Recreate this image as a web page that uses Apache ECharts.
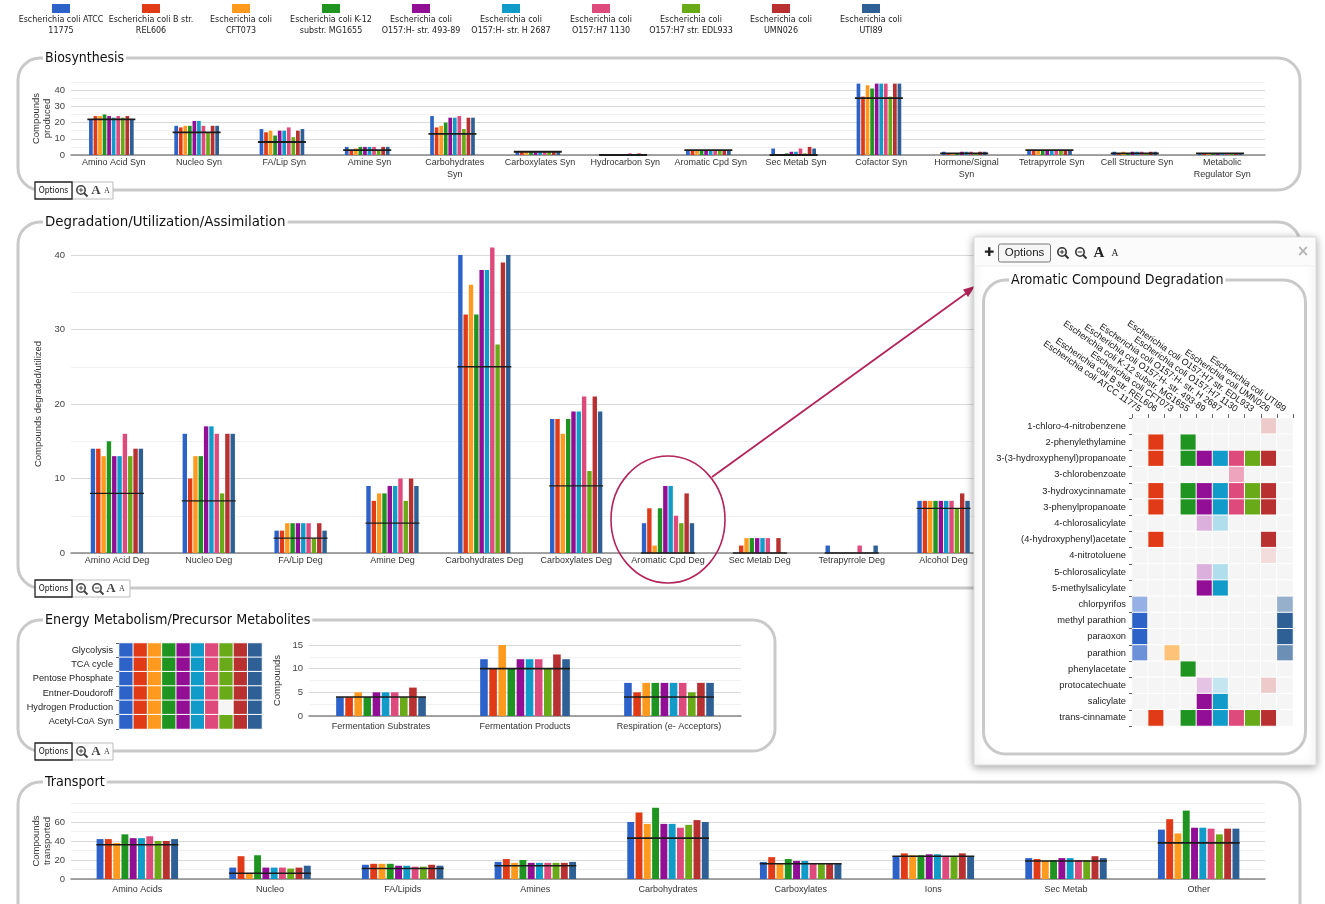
<!DOCTYPE html>
<html>
<head>
<meta charset="utf-8">
<title>Compound summary</title>
<script src="https://cdn.jsdelivr.net/npm/echarts@6/dist/echarts.min.js"></script>
<style>
  html, body { margin: 0; padding: 0; background: #fff; overflow: hidden; }
  #chart { width: 1325px; height: 904px; }
</style>
</head>
<body>
<div id="chart"></div>
<script>
const strains = [
  'Escherichia coli ATCC 11775', 'Escherichia coli B str. REL606', 'Escherichia coli CFT073',
  'Escherichia coli K-12 substr. MG1655', 'Escherichia coli O157:H- str. 493-89', 'Escherichia coli O157:H- str. H 2687',
  'Escherichia coli O157:H7 1130', 'Escherichia coli O157:H7 str. EDL933', 'Escherichia coli UMN026', 'Escherichia coli UTI89'
]
const legendLines = [
  ['Escherichia coli ATCC', '11775'], ['Escherichia coli B str.', 'REL606'], ['Escherichia coli', 'CFT073'],
  ['Escherichia coli K-12', 'substr. MG1655'], ['Escherichia coli', 'O157:H- str. 493-89'], ['Escherichia coli', 'O157:H- str. H 2687'],
  ['Escherichia coli', 'O157:H7 1130'], ['Escherichia coli', 'O157:H7 str. EDL933'], ['Escherichia coli', 'UMN026'], ['Escherichia coli', 'UTI89']
]
const colors = ['#2d63c8', '#e03a17', '#ff9a1f', '#1f9421', '#920e95', '#109bc9', '#df4a7c', '#69aa18', '#b83030', '#2e6095']

// biosynthesis: one row per category, one value per strain
const bioCats = ['Amino Acid Syn', 'Nucleo Syn', 'FA/Lip Syn', 'Amine Syn', 'Carbohydrates\nSyn', 'Carboxylates Syn', 'Hydrocarbon Syn',
  'Aromatic Cpd Syn', 'Sec Metab Syn', 'Cofactor Syn', 'Hormone/Signal\nSyn', 'Tetrapyrrole Syn', 'Cell Structure Syn', 'Metabolic\nRegulator Syn']
const bioValues = [
  [22, 24, 24, 25, 24, 23, 24, 23, 24, 22],
  [18, 17, 18, 18, 21, 21, 18, 14, 18, 18],
  [16, 14, 15, 12, 15, 15, 17, 11, 15, 16],
  [5, 3, 4, 5, 5, 5, 5, 3, 5, 5],
  [24, 17, 18, 20, 23, 23, 24, 16, 23, 23],
  [2, 2, 2, 2, 2, 2, 2, 2, 2, 2],
  [0, 0, 0, 0, 0, 0, 1, 0, 1, 0],
  [3, 3, 3, 3, 3, 3, 3, 3, 3, 3],
  [4, 0, 0, 1, 2, 2, 4, 1, 5, 4],
  [44, 36, 43, 41, 44, 44, 44, 36, 44, 44],
  [2, 1, 1, 1, 2, 2, 2, 1, 2, 2],
  [3, 3, 3, 3, 3, 3, 3, 3, 3, 3],
  [2, 1, 2, 1, 2, 2, 2, 1, 2, 2],
  [1, 1, 1, 1, 1, 1, 1, 1, 1, 1]
]
const bioCore = [22, 14, 8, 3, 13, 2, 0, 3, 0, 35, 1, 3, 1, 1]

// last three categories sit behind the popup, so they stay empty
const degCats = ['Amino Acid Deg', 'Nucleo Deg', 'FA/Lip Deg', 'Amine Deg', 'Carbohydrates Deg', 'Carboxylates Deg',
  'Aromatic Cpd Deg', 'Sec Metab Deg', 'Tetrapyrrole Deg', 'Alcohol Deg', '', '', '']
const degValues = [
  [14, 14, 13, 15, 13, 13, 16, 13, 14, 14],
  [16, 10, 13, 13, 17, 17, 16, 8, 16, 16],
  [3, 3, 4, 4, 4, 4, 4, 2, 4, 3],
  [9, 7, 8, 8, 9, 9, 10, 7, 10, 9],
  [40, 32, 36, 32, 38, 38, 41, 28, 39, 40],
  [18, 18, 16, 18, 19, 19, 21, 11, 21, 19],
  [4, 6, 1, 6, 9, 9, 5, 4, 8, 4],
  [0, 1, 2, 2, 2, 2, 2, 0, 2, 0],
  [1, 0, 0, 0, 0, 0, 1, 0, 0, 1],
  [7, 7, 7, 7, 7, 7, 7, 6, 8, 7],
  [], [], []
]
const degCore = [8, 7, 2, 4, 25, 9, 0, 0, 0, 6, null, null, null]

const energyCats = ['Fermentation Substrates', 'Fermentation Products', 'Respiration (e- Acceptors)']
const energyValues = [
  [4, 4, 5, 4, 5, 5, 5, 4, 6, 4],
  [12, 10, 15, 10, 12, 12, 12, 10, 13, 12],
  [7, 5, 7, 7, 7, 7, 7, 5, 7, 7]
]
const energyCore = [4, 10, 4]

const pathways = ['Glycolysis', 'TCA cycle', 'Pentose Phosphate', 'Entner-Doudoroff', 'Hydrogen Production', 'Acetyl-CoA Syn']
const pathwayCells = [
  [1, 1, 1, 1, 1, 1, 1, 1, 1, 1],
  [1, 1, 1, 1, 1, 1, 1, 1, 1, 1],
  [1, 1, 1, 1, 1, 1, 1, 1, 1, 1],
  [1, 1, 1, 1, 1, 1, 1, 1, 1, 1],
  [1, 1, 1, 1, 1, 1, 1, 0, 1, 1],
  [1, 1, 1, 1, 1, 1, 1, 1, 1, 1]
]

const transCats = ['Amino Acids', 'Nucleo', 'FA/Lipids', 'Amines', 'Carbohydrates', 'Carboxylates', 'Ions', 'Sec Metab', 'Other']
const transValues = [
  [42, 42, 38, 47, 43, 43, 45, 40, 40, 42],
  [12, 24, 6, 25, 12, 12, 12, 11, 12, 14],
  [15, 16, 16, 16, 14, 14, 13, 13, 15, 14],
  [18, 21, 17, 20, 17, 17, 17, 17, 17, 18],
  [60, 70, 58, 75, 58, 58, 54, 57, 62, 60],
  [18, 23, 16, 21, 19, 19, 16, 16, 16, 16],
  [24, 27, 25, 25, 26, 26, 24, 24, 27, 24],
  [22, 21, 19, 20, 22, 22, 20, 20, 24, 22],
  [52, 63, 48, 72, 54, 54, 53, 47, 53, 53]
]
const transCore = [36, 6, 11, 14, 43, 16, 24, 19, 38]

const compounds = ['1-chloro-4-nitrobenzene', '2-phenylethylamine', '3-(3-hydroxyphenyl)propanoate', '3-chlorobenzoate', '3-hydroxycinnamate',
  '3-phenylpropanoate', '4-chlorosalicylate', '(4-hydroxyphenyl)acetate', '4-nitrotoluene', '5-chlorosalicylate', '5-methylsalicylate',
  'chlorpyrifos', 'methyl parathion', 'paraoxon', 'parathion', 'phenylacetate', 'protocatechuate', 'salicylate', 'trans-cinnamate']
const compoundCells = [
  [0, 0, 0, 0, 0, 0, 0, 0, 0.25, 0],
  [0, 1, 0, 1, 0, 0, 0, 0, 0, 0],
  [0, 1, 0, 1, 1, 1, 1, 1, 1, 0],
  [0, 0, 0, 0, 0, 0, 0.5, 0, 0, 0],
  [0, 1, 0, 1, 1, 1, 1, 1, 1, 0],
  [0, 1, 0, 1, 1, 1, 1, 1, 1, 0],
  [0, 0, 0, 0, 0.33, 0.33, 0, 0, 0, 0],
  [0, 1, 0, 0, 0, 0, 0, 0, 1, 0],
  [0, 0, 0, 0, 0, 0, 0, 0, 0.17, 0],
  [0, 0, 0, 0, 0.33, 0.33, 0, 0, 0, 0],
  [0, 0, 0, 0, 1, 1, 0, 0, 0, 0],
  [0.5, 0, 0, 0, 0, 0, 0, 0, 0, 0.5],
  [1, 0, 0, 0, 0, 0, 0, 0, 0, 1],
  [1, 0, 0, 0, 0, 0, 0, 0, 0, 1],
  [0.7, 0, 0.6, 0, 0, 0, 0, 0, 0, 0.7],
  [0, 0, 0, 1, 0, 0, 0, 0, 0, 0],
  [0, 0, 0, 0, 0.25, 0.25, 0, 0, 0.25, 0],
  [0, 0, 0, 0, 1, 1, 0, 0, 0, 0],
  [0, 1, 0, 1, 1, 1, 1, 1, 1, 0]
]

const SANS = '"Liberation Sans", Arial, sans-serif'
const TITLE = '"DejaVu Sans Condensed", "DejaVu Sans", sans-serif'
const grids = [], xAxes = [], yAxes = [], series = [], graphics = []

// grouped bars plus the black core line, all on one grid
function addBars(box, cats, rows, core, o) {
  const idx = grids.length
  grids.push(Object.assign({ outerBoundsMode: 'none' }, box))
  xAxes.push({
    gridIndex: idx, type: 'category', data: cats, z: 1,
    axisLine: { lineStyle: { color: '#888', width: 1.5 } }, axisTick: { show: false },
    axisLabel: { interval: 0, color: '#333', fontFamily: SANS, fontSize: 9, margin: o.labelMargin, lineHeight: 12 }
  })
  yAxes.push({
    gridIndex: idx, type: 'value', min: 0, max: o.max, interval: o.step, z: 1,
    name: o.name, nameLocation: 'middle', nameGap: o.nameGap, nameRotate: 90, nameMoveOverlap: false,
    nameTextStyle: { color: '#333', fontFamily: SANS, fontSize: 9.5, lineHeight: 11 },
    axisLine: { show: false }, axisTick: { show: false },
    axisLabel: {
      color: '#444', fontFamily: SANS, fontSize: 9.5, margin: 6,
      formatter: v => (v % o.labelEvery === 0 && v <= o.labelTop ? String(v) : '')
    },
    splitLine: { show: true, lineStyle: { color: o.gridColors, width: 1.2 } }
  })
  strains.forEach((name, s) => {
    series.push({
      type: 'bar', name, xAxisIndex: idx, yAxisIndex: idx, clip: false,
      barWidth: o.barWidth, barGap: o.barGap, z: 2,
      itemStyle: { color: colors[s] },
      data: rows.map(r => (r[s] === undefined ? null : r[s]))
    })
  })
  // empty slot after the last strain nudges the group left of its label
  if (o.spareSlot) {
    series.push({ type: 'bar', xAxisIndex: idx, yAxisIndex: idx, barWidth: o.barWidth, barGap: o.barGap, data: rows.map(() => null) })
  }
  series.push({
    type: 'custom', name: 'Core', xAxisIndex: idx, yAxisIndex: idx, z: 3,
    encode: { x: 0, y: 1 },
    data: core.map((v, i) => [i, v]).filter(d => d[1] !== null),
    renderItem: (params, api) => {
      const p = api.coord([api.value(0), api.value(1)])
      const cx = p[0] + (o.coreShift || 0)
      return {
        type: 'line',
        shape: { x1: cx - o.coreHalf, y1: p[1], x2: cx + o.coreHalf, y2: p[1] },
        style: { stroke: '#1c1c1c', lineWidth: o.coreWidth }
      }
    }
  })
}

// presence grid, alpha of a cell = share of compounds present
function addHeat(box, rowNames, cells, o) {
  const idx = grids.length
  grids.push(Object.assign({ outerBoundsMode: 'none' }, box))
  const top = !!o.xLabels
  xAxes.push({
    gridIndex: idx, type: 'category', data: o.xLabels || strains, position: 'top', z: o.z,
    splitArea: { show: false }, axisLine: { show: false },
    axisTick: { show: top, length: 4, lineStyle: { color: '#666' } },
    axisLabel: { show: top, interval: 0, rotate: 35, color: '#111', fontFamily: SANS, fontSize: 9.1, margin: 8 }
  })
  yAxes.push({
    gridIndex: idx, type: 'category', data: rowNames, inverse: true, z: o.z,
    axisLine: { show: false }, axisTick: { show: true, length: 3, lineStyle: { color: '#666' } },
    axisLabel: { interval: 0, color: '#222', fontFamily: SANS, fontSize: o.labelSize, margin: 6 },
    splitArea: { show: false }
  })
  const data = []
  cells.forEach((row, y) => row.forEach((v, x) => {
    data.push({
      value: [x, y, v],
      itemStyle: { color: v > 0 ? echarts.color.modifyAlpha(colors[x], v) : '#f5f5f5', borderColor: '#fff', borderWidth: 1 }
    })
  }))
  series.push({ type: 'heatmap', xAxisIndex: idx, yAxisIndex: idx, z: o.z, data, emphasis: { disabled: true } })
}

const strongLight = ['#d9d9d9', '#f1f1f1']
addBars({ left: 71, top: 82, width: 1194, height: 73 }, bioCats, bioValues, bioCore, {
  max: 45, step: 5, labelEvery: 10, labelTop: 40, name: 'Compounds\nproduced', nameGap: 18, gridColors: strongLight,
  barWidth: 3.7, barGap: '23%', coreHalf: 24, coreShift: -2.3, coreWidth: 1.8, labelMargin: 2, spareSlot: true
})
addBars({ left: 71, top: 255, width: 1194, height: 298 }, degCats, degValues, degCore, {
  max: 40, step: 5, labelEvery: 10, labelTop: 40, name: 'Compounds degraded/utilized', nameGap: 27, gridColors: strongLight,
  barWidth: 4.4, barGap: '21%', coreHalf: 27, coreWidth: 1.3, labelMargin: 2
})
addHeat({ left: 119, top: 643, width: 143, height: 86 }, pathways, pathwayCells, { labelSize: 9.2, z: 2 })
addBars({ left: 309, top: 645, width: 432, height: 71 }, energyCats, energyValues, energyCore, {
  max: 15, step: 2.5, labelEvery: 5, labelTop: 15, name: 'Compounds', nameGap: 26, gridColors: strongLight,
  barWidth: 7.6, barGap: '20%', coreHalf: 45, coreWidth: 1.6, labelMargin: 5
})
addBars({ left: 71, top: 803, width: 1194, height: 76 }, transCats, transValues, transCore, {
  max: 80, step: 10, labelEvery: 20, labelTop: 60, name: 'Compounds\ntransported', nameGap: 18,
  gridColors: ['#d9d9d9', '#f1f1f1', '#d9d9d9', '#f1f1f1', '#d9d9d9', '#f1f1f1', '#d9d9d9', '#f1f1f1', '#f1f1f1'],
  barWidth: 6.9, barGap: '20%', coreHalf: 41, coreWidth: 1.6, labelMargin: 5
})
addHeat({ left: 1132, top: 418, width: 161, height: 308 }, compounds, compoundCells, { labelSize: 9.3, z: 20, xLabels: strains })

// ---- page furniture: legend, panels, buttons, popup ----
function label(x, y, text, font, fill, extra) {
  graphics.push({ type: 'text', x, y, z: (extra && extra.z) || 5, silent: true,
    style: Object.assign({ text, font, fill: fill || '#222', align: 'left', verticalAlign: 'middle' }, extra && extra.style) })
}
function panel(x, y, w, h, title, size) {
  graphics.push({ type: 'rect', z: 0, silent: true, shape: { x, y, width: w, height: h, r: 22 },
    style: { fill: 'none', stroke: '#c9c9c9', lineWidth: 3 } })
  label(x + 25, y, title, size + 'px ' + TITLE, '#111', { z: 1, style: { backgroundColor: '#fff', padding: [0, 2] } })
}
function glass(x, y, sign, z, col) {
  graphics.push({ type: 'circle', z, silent: true, shape: { cx: x, cy: y, r: 4.2 }, style: { fill: 'none', stroke: col, lineWidth: 1.6 } })
  graphics.push({ type: 'line', z, silent: true, shape: { x1: x + 3, y1: y + 3, x2: x + 6.5, y2: y + 6.5 }, style: { stroke: col, lineWidth: 2 } })
  graphics.push({ type: 'line', z, silent: true, shape: { x1: x - 2.2, y1: y, x2: x + 2.2, y2: y }, style: { stroke: col, lineWidth: 1 } })
  if (sign) graphics.push({ type: 'line', z, silent: true, shape: { x1: x, y1: y - 2.2, x2: x, y2: y + 2.2 }, style: { stroke: col, lineWidth: 1 } })
}
function toolbar(y, twoGlasses) {
  const w = twoGlasses ? 58 : 41
  graphics.push({ type: 'rect', z: 6, silent: true, shape: { x: 72, y, width: w, height: 17 }, style: { fill: '#fff', stroke: '#bbb', lineWidth: 1 } })
  graphics.push({ type: 'rect', z: 6, silent: true, shape: { x: 35, y, width: 37, height: 17 }, style: { fill: '#fff', stroke: '#222', lineWidth: 1.3 } })
  label(53.5, y + 8.5, 'Options', '8.5px ' + TITLE, '#111', { z: 7, style: { align: 'center' } })
  glass(81, y + 8, true, 7, '#444')
  if (twoGlasses) glass(97, y + 8, false, 7, '#444')
  const a = twoGlasses ? 111 : 96
  label(a, y + 8.5, 'A', 'bold 13px "Liberation Serif", serif', '#444', { z: 7, style: { align: 'center' } })
  label(a + 11, y + 9, 'A', '8px "Liberation Serif", serif', '#444', { z: 7, style: { align: 'center' } })
}

legendLines.forEach((lines, i) => {
  const cx = 61 + i * 90
  graphics.push({ type: 'rect', z: 5, silent: true, shape: { x: cx - 9, y: 4, width: 18, height: 9 }, style: { fill: colors[i] } })
  lines.forEach((t, j) => label(cx, 20 + j * 10.5, t, '8.9px ' + TITLE, '#222', { style: { align: 'center' } }))
})

panel(18, 58, 1282, 132, 'Biosynthesis', 14)
panel(18, 222, 1282, 366, 'Degradation/Utilization/Assimilation', 14.9)
panel(18, 620, 757, 131, 'Energy Metabolism/Precursor Metabolites', 14.2)
panel(18, 782, 1282, 180, 'Transport', 14.2)
toolbar(182, false)
toolbar(580, true)
toolbar(743, false)

// red callout from the aromatic group to the popup
const callout = '#b3245a'
graphics.push({ type: 'ellipse', z: 8, silent: true, shape: { cx: 668, cy: 519.5, rx: 57, ry: 63.5 }, style: { fill: 'none', stroke: callout, lineWidth: 1.6 } })
graphics.push({ type: 'line', z: 8, silent: true, shape: { x1: 712, y1: 477, x2: 968, y2: 292 }, style: { stroke: callout, lineWidth: 1.8 } })
graphics.push({ type: 'polygon', z: 8, silent: true, shape: { points: [[975, 286], [963, 289.5], [968, 297]] }, style: { fill: callout } })

// popup sits on top of the degradation panel
graphics.push({ type: 'rect', z: 10, silent: true, shape: { x: 974, y: 237, width: 342, height: 528 },
  style: { fill: '#fff', stroke: '#ddd', lineWidth: 1, shadowBlur: 8, shadowColor: 'rgba(0,0,0,0.35)', shadowOffsetY: 2 } })
graphics.push({ type: 'rect', z: 11, silent: true, shape: { x: 975, y: 238, width: 340, height: 28 }, style: { fill: '#fbfbfb' } })
graphics.push({ type: 'line', z: 11, silent: true, shape: { x1: 975, y1: 266, x2: 1315, y2: 266 }, style: { stroke: '#eee', lineWidth: 1 } })
label(989, 252.5, '\u271A', '12px "DejaVu Sans", sans-serif', '#222', { z: 12, style: { align: 'center' } })
graphics.push({ type: 'rect', z: 12, silent: true, shape: { x: 998.5, y: 244, width: 52, height: 18, r: 2 }, style: { fill: '#f6f6f6', stroke: '#777', lineWidth: 1 } })
label(1024.5, 253, 'Options', '11.5px ' + SANS, '#222', { z: 13, style: { align: 'center' } })
glass(1062, 252, true, 12, '#333')
glass(1080, 252, false, 12, '#333')
label(1099, 253, 'A', 'bold 15px "Liberation Serif", serif', '#222', { z: 12, style: { align: 'center' } })
label(1115, 253.5, 'A', '9.5px "Liberation Serif", serif', '#222', { z: 12, style: { align: 'center' } })
label(1303, 252.5, '\u00D7', 'bold 15px "DejaVu Sans", sans-serif', '#b5b5b5', { z: 12, style: { align: 'center' } })
graphics.push({ type: 'rect', z: 12, silent: true, shape: { x: 983.5, y: 280, width: 322, height: 474, r: 22 }, style: { fill: 'none', stroke: '#c9c9c9', lineWidth: 3 } })
label(1009, 280, 'Aromatic Compound Degradation', '14.1px ' + TITLE, '#111', { z: 13, style: { backgroundColor: '#fff', padding: [0, 2] } })

const chart = echarts.init(document.getElementById('chart'), null, { renderer: 'canvas' })
chart.setOption({
  animation: false,
  backgroundColor: '#fff',
  grid: grids,
  xAxis: xAxes,
  yAxis: yAxes,
  series,
  graphic: { elements: graphics }
})
</script>
</body>
</html>
